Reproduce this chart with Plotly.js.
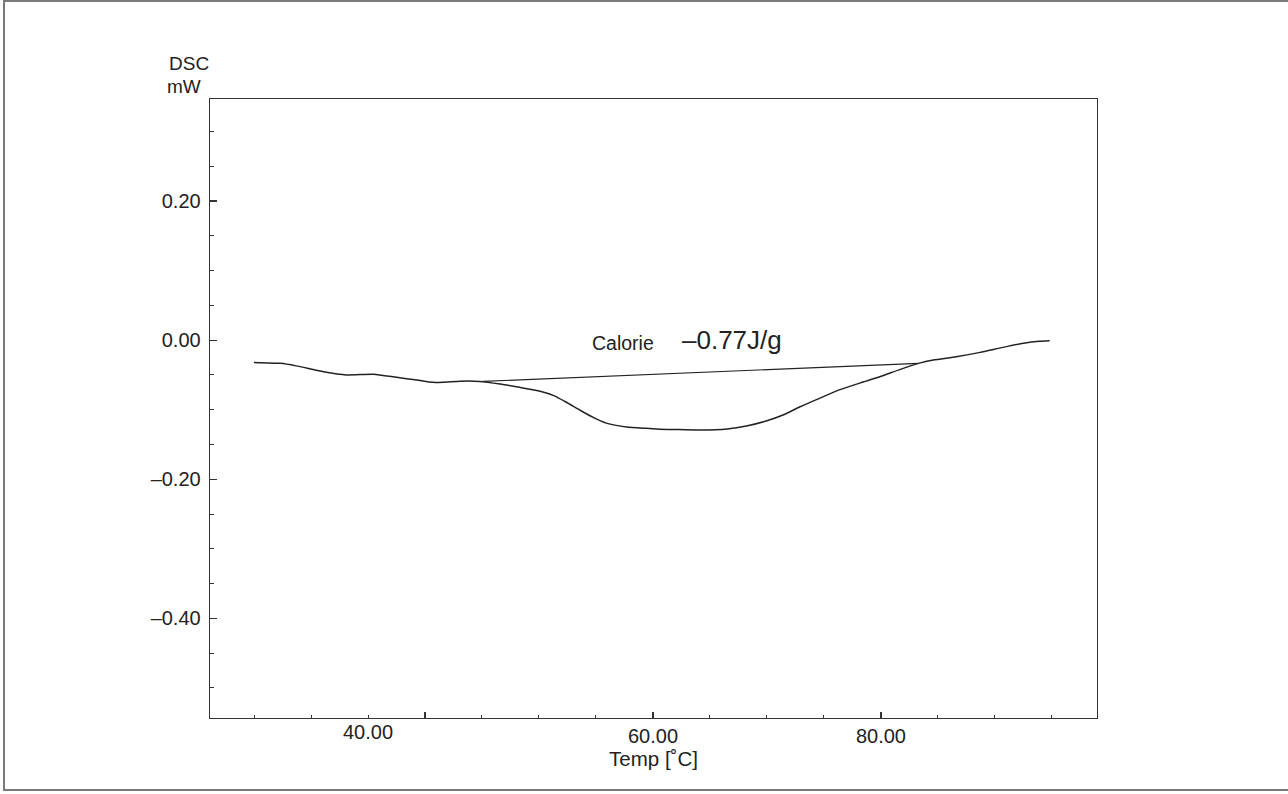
<!DOCTYPE html>
<html>
<head>
<meta charset="utf-8">
<script src="https://cdn.plot.ly/plotly-3.0.1.min.js"></script>
<style>
  html, body { margin: 0; padding: 0; background: #fff; }
  #chart { position: absolute; left: 0; top: 0; width: 1288px; height: 794px; }
  #frame { position: absolute; left: 3px; top: 0px; width: 1285px; height: 791px;
           border-left: 2px solid #7a7a7a; border-top: 2px solid #7a7a7a; border-bottom: 2px solid #7a7a7a;
           pointer-events: none; box-sizing: border-box; }
</style>
</head>
<body>
<div id="chart"></div>
<div id="frame"></div>
<script>
// DSC curve: temperature (°C) and heat flow (mW)
const tempC = [25.0, 27.3, 28.7, 31.1, 33.1, 35.5, 37.5, 39.3, 40.7, 41.6, 43.1, 44.8, 46.6, 48.3, 50.1,
               51.3, 52.4, 53.6, 54.8, 55.9, 57.7, 59.4, 60.6, 61.8, 64.1, 66.5, 68.2, 70.0, 71.4, 72.9,
               74.6, 76.4, 78.2, 79.9, 81.7, 83.3, 84.6, 86.6, 88.7, 90.7, 92.5, 93.9, 94.8];
const dscMW = [-0.032, -0.0334, -0.037, -0.0454, -0.050, -0.049, -0.0535, -0.0574, -0.0607, -0.0605, -0.059, -0.0593, -0.0631, -0.0679, -0.0735,
               -0.0798, -0.0893, -0.1008, -0.1115, -0.1193, -0.1248, -0.1268, -0.128, -0.1285, -0.1293, -0.1278, -0.1235, -0.1159, -0.1077, -0.0958,
               -0.0837, -0.0712, -0.0614, -0.0526, -0.042, -0.0334, -0.0286, -0.0239, -0.0176, -0.0104, -0.0046, -0.0017, -0.001];
// Integration baseline (start / end)
const baseTemp = [45.1, 83.3];
const baseMW = [-0.0593, -0.0334];
// Axis ticks
const yTickVals = [-0.4, -0.2, 0.0, 0.2];
const yTickText = ["\u20130.40", "\u20130.20", "0.00", "0.20"];
const xTickVals = [40, 60, 80];
const xTickText = ["", "60.00", "80.00"];
const x40Label = { text: "40.00", at: 35 };
const calorieLabel = "Calorie";
const calorieValue = "\u20130.77J/g";

const FONT = "Liberation Sans, Arial, Helvetica, sans-serif";
const ink = "#222";

const traces = [
  { x: tempC, y: dscMW, mode: "lines", line: { color: ink, width: 1.5, shape: "spline", smoothing: 0.5 }, hoverinfo: "skip" },
  { x: baseTemp, y: baseMW, mode: "lines", line: { color: ink, width: 1.1 }, hoverinfo: "skip" }
];

const axisCommon = {
  showgrid: false, zeroline: false, showline: true, mirror: true,
  linecolor: "#333", linewidth: 1.3,
  ticks: "inside", tickcolor: "#333", tickwidth: 1.2,
  tickfont: { family: FONT, size: 20, color: ink }
};

const layout = {
  width: 1288, height: 794,
  margin: { l: 210, r: 191, t: 99, b: 76 },
  paper_bgcolor: "#fff", plot_bgcolor: "#fff",
  showlegend: false,
  font: { family: FONT, color: ink },
  xaxis: Object.assign({}, axisCommon, {
    range: [21.14, 98.95],
    tickmode: "array", tickvals: xTickVals, ticktext: xTickText, ticklen: 6,
    minor: { dtick: 5, tick0: 0, ticks: "inside", ticklen: 3, tickcolor: "#333", tickwidth: 1, showgrid: false },
    title: { text: "Temp [\u02DAC]", font: { family: FONT, size: 20.5, color: ink }, standoff: 2 }
  }),
  yaxis: Object.assign({}, axisCommon, {
    range: [-0.5433, 0.3467],
    tickmode: "array", tickvals: yTickVals, ticktext: yTickText, ticklen: 7,
    ticklabelstandoff: 4,
    minor: { dtick: 0.05, tick0: 0, ticks: "inside", ticklen: 4, tickcolor: "#333", tickwidth: 1, showgrid: false }
  }),
  annotations: [
    { xref: "paper", yref: "paper", x: -0.0237, y: 1.058, text: "DSC", showarrow: false,
      xanchor: "center", yanchor: "middle", font: { family: FONT, size: 19, color: ink } },
    { xref: "paper", yref: "paper", x: -0.0295, y: 1.021, text: "mW", showarrow: false,
      xanchor: "center", yanchor: "middle", font: { family: FONT, size: 19, color: ink } },
    { xref: "x", yref: "paper", x: x40Label.at, y: -0.0225, text: x40Label.text, showarrow: false,
      xanchor: "center", yanchor: "middle", font: { family: FONT, size: 20, color: ink } },
    { xref: "x", yref: "y", x: 57.37, y: -0.004, text: calorieLabel, showarrow: false,
      xanchor: "center", yanchor: "middle", font: { family: FONT, size: 19.5, color: ink } },
    { xref: "x", yref: "y", x: 66.93, y: 0.0, text: calorieValue, showarrow: false,
      xanchor: "center", yanchor: "middle", font: { family: FONT, size: 26, color: ink } }
  ]
};

Plotly.newPlot("chart", traces, layout, { staticPlot: true, displayModeBar: false });
</script>
</body>
</html>
